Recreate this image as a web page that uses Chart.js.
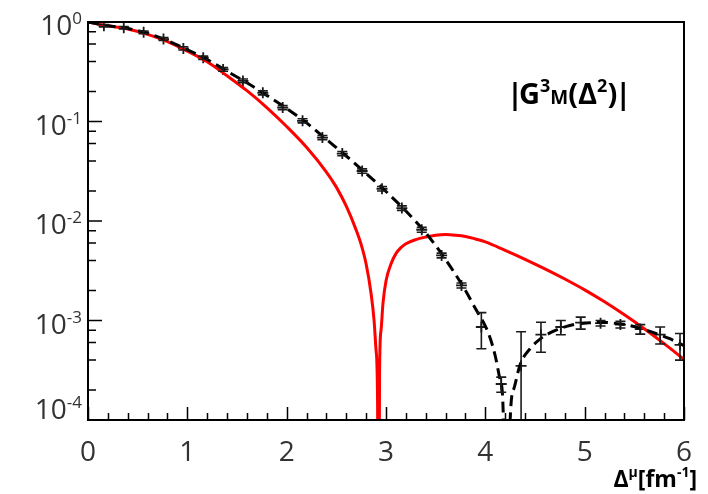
<!DOCTYPE html>
<html lang="en">
<head>
<meta charset="UTF-8">
<title>|G3M(Δ2)|</title>
<script src="https://cdn.jsdelivr.net/npm/chart.js"></script>
<style>
  body {
    margin: 0;
    background: #fff;
  }

  #ffCanvas {
    display: block;
  }
</style>
</head>
<body>
<canvas id="ffCanvas" width="708" height="494"></canvas>

<script>
  // measured points, Δ in fm^-1
  const dataX = [0.16, 0.36, 0.56, 0.76, 0.96, 1.16, 1.36, 1.56, 1.76, 1.96,
                 2.16, 2.36, 2.56, 2.76, 2.96, 3.16, 3.36, 3.56, 3.76, 3.96,
                 4.16, 4.36, 4.56, 4.76, 4.96, 5.16, 5.36, 5.56, 5.76, 5.96];
  const dataY = [0.918, 0.877, 0.787, 0.674, 0.543, 0.437, 0.334, 0.256, 0.194, 0.138,
                 0.1016, 0.069, 0.0476, 0.0318, 0.0211, 0.0135, 0.00817, 0.00451, 0.00225, 0.00086,
                 0.00023, 0.00035, 0.00072, 0.00086, 0.00095, 0.00094, 0.00091, 0.00082, 0.00072, 0.00057];
  const dataErr = [0.025, 0.025, 0.025, 0.022, 0.02, 0.017, 0.014, 0.011, 0.009, 0.0065,
                   0.0048, 0.0033, 0.0023, 0.0016, 0.0011, 0.0007, 0.00045, 0.00025, 0.00013, 0.00034,
                   0.00004, 0.00042, 0.00024, 0.00014, 0.00013, 0.00006, 0.00007, 0.00009, 0.00014, 0.00017];

  // fit (black dashed)
  const fitX = [0, 0.2, 0.4, 0.6, 0.8, 1.0, 1.2, 1.4, 1.6, 1.8,
                2.0, 2.2, 2.4, 2.6, 2.8, 3.0, 3.2, 3.4, 3.6, 3.8,
                3.9, 4.0, 4.05, 4.1, 4.15, 4.18, 4.21, 4.25, 4.29, 4.35,
                4.45, 4.55, 4.65, 4.75, 4.85, 4.95, 5.05, 5.15, 5.25, 5.4,
                5.55, 5.7, 5.85, 6.0];
  const fitY = [1.0, 0.915, 0.86, 0.77, 0.65, 0.525, 0.42, 0.32, 0.245, 0.183,
                0.135, 0.097, 0.066, 0.045, 0.030, 0.0198, 0.0126, 0.0076, 0.0041, 0.0020,
                0.00132, 0.00088, 0.00066, 0.00044, 0.00025, 0.00012, 1e-7, 0.0001, 0.00021, 0.00036,
                0.00052, 0.00065, 0.00075, 0.00083, 0.00089, 0.00093, 0.00095, 0.00096, 0.00095, 0.00091,
                0.00084, 0.00075, 0.00066, 0.00056];

  // model (red)
  const modelX = [0, 0.2, 0.4, 0.6, 0.8, 1.0, 1.2, 1.4, 1.6, 1.8,
                  2.0, 2.2, 2.4, 2.5, 2.6, 2.7, 2.75, 2.8, 2.85, 2.88,
                  2.9, 2.915, 2.925, 2.935, 2.95, 2.97, 3.0, 3.05, 3.1, 3.15,
                  3.2, 3.3, 3.4, 3.5, 3.6, 3.7, 3.8, 3.9, 4.0, 4.2,
                  4.4, 4.6, 4.8, 5.0, 5.2, 5.4, 5.6, 5.8, 6.0];
  const modelY = [1.0, 0.915, 0.85, 0.75, 0.635, 0.51, 0.398, 0.288, 0.204, 0.138,
                  0.089, 0.055, 0.031, 0.0219, 0.0141, 0.0081, 0.0058, 0.0037, 0.00186, 0.001,
                  0.0005, 0.00016, 1e-7, 0.0003, 0.0008, 0.0015, 0.0025, 0.0037, 0.0047, 0.0054,
                  0.0059, 0.0065, 0.0069, 0.0072, 0.0073, 0.0072, 0.0070, 0.0066, 0.00617, 0.00507,
                  0.00412, 0.0033, 0.00261, 0.00203, 0.00154, 0.00114, 0.000826, 0.000585, 0.000407];

  const yExponents = [0, -1, -2, -3, -4];
  const yMinorMantissa = [2, 4, 6, 8];

  const FONT = '"Open Sans", "Noto Sans", sans-serif';
  const pts = (xs, ys) => xs.map((x, i) => ({ x: x, y: ys[i] }));

  // writes a run of [text, size, raise, advance fix] pieces along one baseline
  function drawPieces(ctx, pieces, x0, baseline) {
    let cx = x0;
    for (const [t, s, dy, adj = 0] of pieces) {
      ctx.font = 'bold ' + s + 'px ' + FONT;
      ctx.fillText(t, cx, baseline + dy);
      cx += ctx.measureText(t).width + adj;
    }
    return cx - x0;
  }

  function piecesWidth(ctx, pieces) {
    let w = 0;
    for (const [t, s, dy, adj = 0] of pieces) {
      ctx.font = 'bold ' + s + 'px ' + FONT;
      w += ctx.measureText(t).width + adj;
    }
    return w;
  }

  // ticks inside the frame, frame itself, y labels with exponents
  const frameAxes = {
    id: 'frameAxes',
    afterDraw(chart) {
      const { ctx, chartArea: a, scales: { x, y } } = chart;
      ctx.save();
      ctx.strokeStyle = '#000';
      ctx.lineWidth = 1.5;
      ctx.beginPath();
      for (let i = 0; i <= 30; i++) {
        const px = Math.round(x.getPixelForValue(i * 0.2)) + 0.5;
        const len = i % 5 === 0 ? 13 : 7;
        ctx.moveTo(px, a.bottom);
        ctx.lineTo(px, a.bottom - len);
      }
      for (const e of yExponents) {
        const py = y.getPixelForValue(Math.pow(10, e));
        ctx.moveTo(a.left, py);
        ctx.lineTo(a.left + 14, py);
        if (e === 0) continue;
        for (const m of yMinorMantissa) {
          const pm = y.getPixelForValue(m * Math.pow(10, e));
          ctx.moveTo(a.left, pm);
          ctx.lineTo(a.left + 8, pm);
        }
      }
      ctx.stroke();

      ctx.lineWidth = 2;
      ctx.strokeRect(a.left, a.top, a.right - a.left, a.bottom - a.top);

      // y labels 10^n
      ctx.fillStyle = '#333';
      ctx.textAlign = 'left';
      ctx.textBaseline = 'alphabetic';
      const base = '28px ' + FONT;
      const sup = '17px ' + FONT;
      for (const e of yExponents) {
        const py = y.getPixelForValue(Math.pow(10, e)) + (e === -4 ? -14 : 0);
        const exp = e === 0 ? '0' : '-' + (-e);
        ctx.font = sup;
        const ew = ctx.measureText(exp).width;
        ctx.font = base;
        const bw = ctx.measureText('10').width;
        const right = 82;
        ctx.fillText('10', right - ew - bw, py + 13);
        ctx.font = sup;
        ctx.fillText(exp, right - ew, py + 2);
      }

      // axis title
      ctx.fillStyle = '#000';
      const xTitle = [['Δ', 23, 0], ['μ', 14, -10], ['[fm', 23, 0], ['-1', 14, -10], [']', 23, 0]];
      drawPieces(ctx, xTitle, 697 - piecesWidth(ctx, xTitle), 487);

      // curve label
      const label = [['|', 29, 0, -4], ['G', 29, 0], ['3', 18, -12], ['M', 19, 0], ['(Δ', 29, 0],
                     ['2', 18, -12], [')', 29, 0, -2], ['|', 29, 0]];
      drawPieces(ctx, label, 507, 104);
      ctx.restore();
    }
  };

  // vertical error bars with caps
  const errorBars = {
    id: 'errorBars',
    afterDatasetsDraw(chart) {
      const { ctx, chartArea: a, scales: { x, y } } = chart;
      ctx.save();
      ctx.beginPath();
      ctx.rect(a.left, a.top, a.right - a.left, a.bottom - a.top);
      ctx.clip();
      ctx.strokeStyle = '#1a1a1a';
      ctx.lineWidth = 1.6;
      ctx.beginPath();
      dataX.forEach((v, i) => {
        const px = x.getPixelForValue(v);
        const hi = y.getPixelForValue(dataY[i] + dataErr[i]);
        const lo = dataY[i] - dataErr[i] > 0 ? y.getPixelForValue(dataY[i] - dataErr[i]) : a.bottom + 10;
        ctx.moveTo(px, hi);
        ctx.lineTo(px, lo);
        ctx.moveTo(px - 5, hi);
        ctx.lineTo(px + 5, hi);
        ctx.moveTo(px - 5, lo);
        ctx.lineTo(px + 5, lo);
      });
      ctx.stroke();
      ctx.restore();
    }
  };

  new Chart(document.getElementById('ffCanvas'), {
    type: 'scatter',
    data: {
      datasets: [
        {
          label: 'fit',
          data: pts(fitX, fitY),
          showLine: true,
          borderColor: '#000',
          borderWidth: 3,
          borderDash: [11, 6],
          pointRadius: 0,
          cubicInterpolationMode: 'monotone',
          clip: 0
        },
        {
          label: 'model',
          data: pts(modelX, modelY),
          showLine: true,
          borderColor: '#ff0000',
          borderWidth: 3,
          pointRadius: 0,
          cubicInterpolationMode: 'monotone',
          clip: 0
        },
        {
          label: 'data',
          data: pts(dataX, dataY),
          showLine: false,
          pointStyle: 'cross',
          pointRadius: 5.5,
          pointBorderWidth: 1.8,
          pointBorderColor: '#1a1a1a',
          clip: 0
        }
      ]
    },
    options: {
      responsive: false,
      animation: false,
      layout: { padding: { top: 22, right: 20, left: 0, bottom: 0 } },
      plugins: {
        legend: { display: false },
        tooltip: { enabled: false }
      },
      scales: {
        x: {
          type: 'linear',
          min: 0,
          max: 6,
          grid: { display: false, drawTicks: false },
          border: { display: false },
          ticks: {
            stepSize: 1,
            padding: 16,
            color: '#333',
            font: { family: FONT, size: 28 }
          },
          afterFit(scale) { scale.height = 74; }
        },
        y: {
          type: 'logarithmic',
          min: 1e-4,
          max: 1,
          grid: { display: false, drawTicks: false },
          border: { display: false },
          ticks: { display: false },
          afterFit(scale) { scale.width = 88; }
        }
      }
    },
    plugins: [errorBars, frameAxes]
  });
</script>
</body>
</html>
